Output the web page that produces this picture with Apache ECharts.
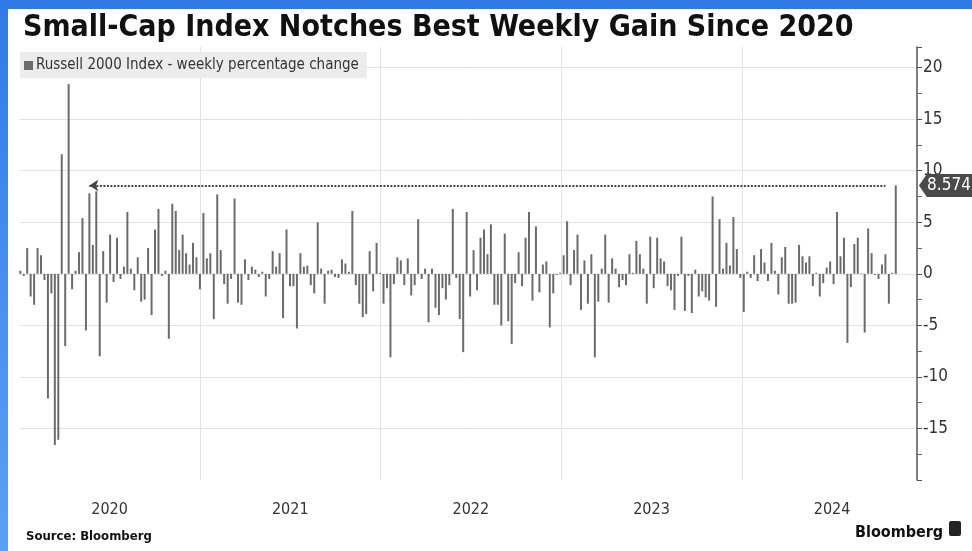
<!DOCTYPE html>
<html><head><meta charset="utf-8">
<script src="https://cdn.jsdelivr.net/npm/echarts@6/dist/echarts.min.js"></script>
<style>
html,body{margin:0;padding:0;width:972px;height:551px;overflow:hidden;background:linear-gradient(180deg,#2f7ae6 0%,#4b92f0 60%,#5aa0f4 100%);}
#panel{position:absolute;left:8px;top:9px;width:964px;height:542px;background:#fff;}
#chart{position:absolute;left:0;top:0;width:972px;height:551px;}
</style></head><body><div id="panel"></div><div id="chart"></div>
<script>
// ---- data ----
const seriesName = 'Russell 2000 Index - weekly percentage change';
const firstWeek = '2020-01-03'; // weeks end on Fridays
const values2020 = [0.3,-0.2,2.5,-2.2,-3.0,2.5,1.8,-0.6,-12.1,-1.9,-16.6,-16.1,11.6,-7.0,18.4,-1.5,0.3,2.1,5.4,-5.5,7.8,2.8,8.0,-8.0,2.2,-2.8,3.8,-0.8,3.5,-0.5,0.7,6.0,0.5,-1.6,1.6,-2.7,-2.5,2.5,-4.0,4.3,6.3,-0.2,0.3,-6.3,6.8,6.1,2.3,3.8,2.0,0.9,3.0,1.6];
const values2021 = [-1.5,5.9,1.5,2.0,-4.4,7.7,2.3,-1.0,-2.9,-0.5,7.3,-2.8,-3.0,1.4,-0.6,0.7,0.4,-0.3,0.2,-2.2,-0.5,2.2,0.7,2.0,-4.3,4.3,-1.2,-1.2,-5.3,2.0,0.7,0.8,-1.1,-1.9,5.0,0.5,-2.9,0.3,0.4,-0.3,-0.4,1.4,1.0,0.2,6.1,-1.1,-2.9,-4.2,-3.9,2.2,-1.7,3.0,0.1];
const values2022 = [-2.9,-1.4,-8.1,-1.0,1.6,1.3,-1.1,1.5,-2.1,-1.1,5.3,-0.5,0.5,-4.7,0.5,-3.3,-4.0,-1.4,-2.5,-1.1,6.3,-0.4,-4.4,-7.6,6.0,-2.2,2.3,-1.6,3.5,4.3,1.9,4.8,-3.0,-3.0,-5.0,3.9,-4.6,-6.8,-0.9,2.1,-1.2,3.5,6.0,-2.6,4.6,-1.8,0.9,1.2,-5.2,-1.9,-0.1,0.1];
const values2023 = [1.8,5.1,-1.1,2.3,3.8,-3.5,1.3,-2.9,1.9,-8.1,-2.7,0.5,3.8,-2.8,1.5,0.5,-1.3,-0.6,-1.1,1.9,0.1,3.2,1.9,0.5,-2.9,3.6,-1.4,3.5,1.5,1.2,-1.2,-1.6,-3.5,-0.2,3.6,-3.6,-0.2,-3.8,0.4,-2.2,-1.7,-2.3,-2.6,7.5,-3.2,5.3,0.5,3.0,0.8,5.5,2.4,-0.4];
const values2024 = [-3.7,0.2,-0.4,1.8,-0.7,2.4,1.1,-0.7,3.0,0.3,-2.0,1.6,2.6,-2.9,-2.9,-2.8,2.8,1.7,1.1,1.7,-1.2,0.1,-2.2,-0.9,0.6,1.2,-1.0,6.0,1.7,3.5,-6.7,-1.3,2.9,3.5,0.05,-5.7,4.4,2.0,-0.1,-0.5,0.9,1.9,-2.9,0.1,8.574];
const yearLabels = ['2020','2021','2022','2023','2024'];
const latestValue = 8.574;
const arrowFromWeek = 20;   // annotation: dotted arrow back to mid-2020
const arrowToWeek = 250;

// ---- build ----
const values = [].concat(values2020, values2021, values2022, values2023, values2024);
const DAY = 86400000;
const t0 = Date.parse(firstWeek + 'T00:00:00Z');
function decYear(t){
  const y = new Date(t).getUTCFullYear();
  const a = Date.UTC(y,0,1), b = Date.UTC(y+1,0,1);
  return y + (t - a) / (b - a);
}
const xs = values.map((v,i)=>decYear(t0 + i*7*DAY));
const xMin = 2020, xMax = 2024.97;
const font = '"DejaVu Sans Condensed","DejaVu Sans",sans-serif';

const chart = echarts.init(document.getElementById('chart'), null, {renderer:'canvas'});
chart.setOption({
  animation:false,
  backgroundColor:'transparent',
  title:[
    {text:'Small-Cap Index Notches Best Weekly Gain Since 2020', left:18, top:8,
     textStyle:{fontFamily:font, fontWeight:'bold', fontSize:30, color:'#111'}},
    {text:'Source: Bloomberg', left:21, top:525,
     textStyle:{fontFamily:font, fontWeight:'bold', fontSize:13, color:'#111'}},
    {text:'Bloomberg', left:850, top:520,
     textStyle:{fontFamily:font, fontWeight:'bold', fontSize:16, color:'#111'}}
  ],
  graphic:[
    {type:'rect', left:949, top:521, shape:{width:12, height:15, r:2}, style:{fill:'#222'}}
  ],
  legend:{left:20, top:52, icon:'rect', itemWidth:9, itemHeight:9, itemGap:0,
    backgroundColor:'#ececec', padding:[6,8,5,4], borderRadius:0,
    textStyle:{fontFamily:font, fontSize:15, color:'#333', padding:[0,0,0,-2]}, data:[seriesName]},
  grid:{left:19.3, right:55, top:47, bottom:71},
  xAxis:[
    {type:'value', min:xMin, max:xMax, interval:1,
     axisLine:{show:false}, axisTick:{show:false}, axisLabel:{show:false},
     splitLine:{show:true, showMinLine:false, showMaxLine:false, lineStyle:{color:'#e2e2e2', width:1}}},
    {type:'value', position:'bottom', min:xMin, max:xMax, interval:0.5,
     axisLine:{show:false}, axisTick:{show:false}, splitLine:{show:false},
     axisLabel:{show:true, margin:22, fontFamily:font, fontSize:16, color:'#333', showMaxLabel:false,
       formatter:function(v){ const f = v - Math.floor(v); return Math.abs(f-0.5)<1e-6 ? (yearLabels[Math.floor(v)-xMin]||'') : ''; }}}
  ],
  yAxis:{type:'value', position:'right', min:-20, max:22, interval:5,
    axisLine:{show:true, lineStyle:{color:'#555', width:1.5}},
    axisTick:{show:true, length:5, lineStyle:{color:'#555'}},
    minorTick:{show:true, splitNumber:2, length:5, lineStyle:{color:'#666'}},
    axisLabel:{margin:6, fontFamily:font, fontSize:17, color:'#333', showMinLabel:false, showMaxLabel:false},
    splitLine:{show:true, showMinLine:false, showMaxLine:false, lineStyle:{color:'#e2e2e2'}}},
  series:[{
    type:'bar', name:seriesName, xAxisIndex:0, yAxisIndex:0,
    data: xs.map((x,i)=>[x, values[i]]),
    barWidth:2, itemStyle:{color:'#6b6b6b'},
    markLine:{silent:true, symbol:['arrow','none'], symbolSize:[9,9], label:{show:false},
      lineStyle:{type:[2,1.5], color:'#444', width:2},
      data:[[{coord:[xs[arrowFromWeek], latestValue]},{coord:[xs[arrowToWeek], latestValue]}]]},
    markPoint:{silent:true, symbol:'path://M0,11 L9,0 L62,0 L62,22 L9,22 Z', symbolSize:[54,23],
      symbolKeepAspect:false, symbolOffset:[29,0], itemStyle:{color:'#4a4a4a'},
      label:{show:true, position:'inside', offset:[3,0], color:'#fff', fontFamily:font, fontSize:17, formatter:String(latestValue)},
      data:[{coord:[xMax, latestValue]}]}
  }]
});
</script></body></html>
